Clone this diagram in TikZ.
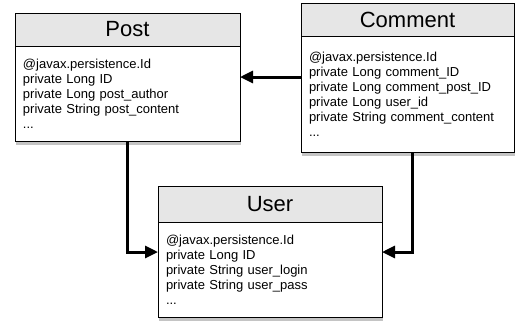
\documentclass[tikz,border=0pt]{standalone}
\usepackage{fontspec}
\setmainfont{Liberation Sans}
\usetikzlibrary{arrows.meta, positioning, shadows}
\definecolor{HeadGray}{HTML}{E6E6E6}
\definecolor{ShadowGray}{HTML}{555555}
\tikzset{
    % Class boxes
    headbox/.style={
        rectangle,
        draw=black,
        fill=HeadGray,
        line width=0.8bp,
        outer sep=0pt,
        inner sep=0pt,
        minimum height=33bp,
        font=\fontsize{22bp}{26bp}\selectfont,
        drop shadow={shadow xshift=1bp, shadow yshift=-3bp, opacity=0.3, fill=ShadowGray}
    },
    bodybox/.style={
        rectangle,
        draw=black,
        fill=white,
        line width=0.8bp,
        outer sep=0pt,
        inner xsep=8bp,
        inner ysep=0pt,
        align=left,
        font=\fontsize{13bp}{15bp}\selectfont,
        drop shadow={shadow xshift=1bp, shadow yshift=-4bp, opacity=0.35, fill=ShadowGray}
    },
    % Connector
    mylink/.style={
        -{Triangle[length=13bp,width=12bp]},
        line width=3bp,
        black
    }
}
\begin{document}
\begin{tikzpicture}[x=1bp, y=-1bp]
    \useasboundingbox (0,0) rectangle (522,322);

    % Post
    \node[headbox, minimum width=225bp] (posthead) at (127.5,29.5) {Post};
    \node[bodybox, text width=209bp, minimum height=95bp, below=0pt of posthead] (postbody) {%
        @javax.persistence.Id\\
        private Long ID\\
        private Long post\_author\\
        private String post\_content\\
        ...};

    % Comment
    \node[headbox, minimum width=213bp] (commenthead) at (407.5,19.5) {Comment};
    \node[bodybox, text width=197bp, minimum height=116bp, below=0pt of commenthead] (commentbody) {%
        @javax.persistence.Id\\
        private Long comment\_ID\\
        private Long comment\_post\_ID\\
        private Long user\_id\\
        private String comment\_content\\
        ...};

    % User
    \node[headbox, minimum width=224bp, minimum height=36bp] (userhead) at (270,204) {User};
    \node[bodybox, text width=208bp, minimum height=95bp, below=0pt of userhead] (userbody) {%
        @javax.persistence.Id\\
        private Long ID\\
        private String user\_login\\
        private String user\_pass\\
        ...};

    % Link points
    \coordinate (postid) at ([yshift=-31bp]postbody.north east);
    \coordinate (userleft) at ([yshift=-30bp]userbody.north west);
    \coordinate (userright) at ([yshift=-30bp]userbody.north east);

    % Arrows
    \draw[mylink] (commentbody.west |- postid) -- (postid);
    \draw[mylink] (postbody.south) |- (userleft);
    \draw[mylink] ([xshift=5bp]commentbody.south) |- (userright);
\end{tikzpicture}
\end{document}
